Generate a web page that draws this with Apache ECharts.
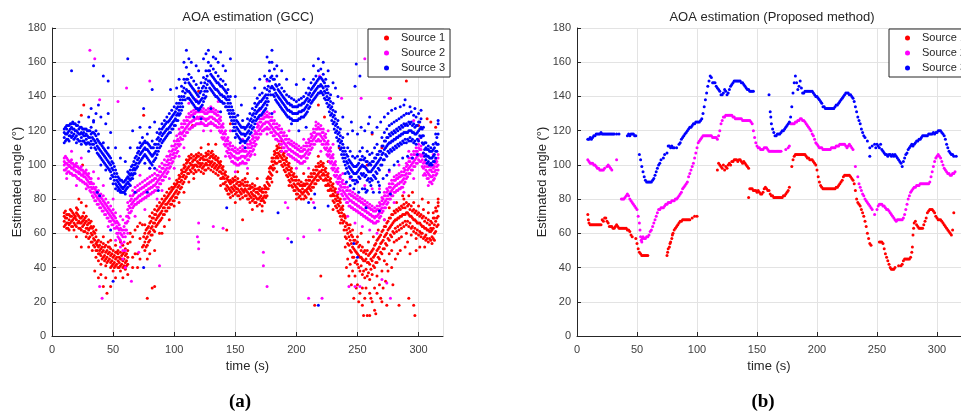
<!DOCTYPE html>
<html>
<head>
<meta charset="utf-8">
<script src="https://cdn.jsdelivr.net/npm/echarts@6/dist/echarts.min.js"></script>
<style>
  html, body { margin: 0; padding: 0; background: #fff; }
  #chart { width: 961px; height: 417px; }
</style>
</head>
<body>
<div id="chart"></div>
<script>
const sourceNames = ['Source 1', 'Source 2', 'Source 3'];
const sourceColors = ['#ff0000', '#ff00ff', '#0000ff'];
const yTicks = [0, 20, 40, 60, 80, 100, 120, 140, 160, 180];
const xTicks = [0, 50, 100, 150, 200, 250, 300];

const gccSource1 = [
  [10,67,70,64,72],[12,66,69,63,71],[14,68,71,65,62],[16,67,70,64,73],[18,66,69,62,71],
  [20,68,72,64,75],[22,67,70,63,80],[24,66,69,62,52],[26,65,68,61,72],[28,63,67,58,70],
  [30,62,66,57,68],[32,60,64,55,67],[34,57,61,53,64],[36,54,58,50,46],[38,52,56,48,44],
  [40,51,55,47,42],[42,50,54,46,58],[44,49,53,45,41],[46,48,52,44,55],[48,47,51,43,40],
  [50,46,50,42,38],[52,45,49,41,53],[54,44,48,40,50],[56,45,49,41,38],[58,44,48,40,53],
  [60,43,47,39,51],[62,46,50,42,36],[64,55,60],[66,58,40],[68,62,48],[70,48,64],[72,57,45],
  [74,52,65],[76,55,60,50,65],[78,58,63,53,45],[80,61,66,56,70],[82,64,69,59,72],
  [84,66,71,61,74],[86,69,73,65,76],[88,71,75,67,78],[90,73,77,69,80],[92,75,79,71,82],
  [94,77,81,73,84],[96,79,83,75,86],[98,81,85,77,87],[100,83,87,79,89],[102,85,89,81,91],
  [104,88,92,84,94],[106,91,95,87,97],[108,94,98,90,100],[110,97,101,93,103],[112,99,103,95,105],
  [114,100,104,96,106],[116,99,103,95,105],[118,100,104,96,106],[120,101,105,97,107],
  [122,100,104,96,106],[124,99,103,95,105],[126,101,105,97,107],[128,102,106,98,108],
  [130,101,105,97,107],[132,100,104,96,106],[134,99,103,95,105],[136,98,102,94,104],
  [138,96,100,92,102],[140,93,97,89,99],[142,90,94,86,96],[144,87,91,83,93],[146,85,89,81,91],
  [148,86,90,82,92],[150,87,91,83,93],[152,86,90,82,92],[154,84,88,80,90],[156,85,89,81,91],
  [158,86,90,82,92],[160,84,88,80,90],[162,82,86,78,88],[164,83,87,79,89],[166,82,86,78,88],
  [168,80,84,76,86],[170,81,85,77,87],[172,80,84,76,86],[174,82,86,78,88],[176,86,90,82,92],
  [178,92,96,88,98],[180,98,102,94,104],[182,102,106,98,108],[184,105,109,101,111],
  [186,106,110,102,112],[188,104,108,100,110],[190,101,105,97,107],[192,98,102,94,104],
  [194,95,99,91,101],[196,92,96,88,98],[198,89,93,85,95],[200,87,91,83,93],[202,85,89,81,91],
  [204,84,88,80,90],[206,84,88,80,89],[208,85,89,81,91],[210,87,91,83,93],[212,89,93,85,95],
  [214,91,95,87,97],[216,93,97,89,99],[218,95,99,91,101],[220,96,100,92,102],[222,95,99,91,101],
  [224,92,96,88,98],[226,89,93,85,95],[228,86,90,82,92],[230,83,87,79,89],[232,80,84,76,86],
  [234,77,81,73,83],[236,74,78,70,80],[238,70,74,66,76],[240,64,69,58,52],[242,60,65,54,45],
  [244,56,61,50,42],[246,52,58,46,38],[248,50,56,43,35],[250,48,55,42,30],[252,46,53,38,25],
  [254,45,52,36,28],[256,44,50,34,22],[258,43,50,35,12],[260,42,48,33,25],[262,44,50,36,20],
  [264,47,53,40,28],[266,50,56,43,35],[268,52,58,45,30],[270,55,61,48,38],[272,58,64,51,44],
  [274,60,66,53,42],[276,63,69,56,48],[278,65,71,58,50],[280,67,73,60,55],[282,68,74,61,56],
  [284,69,75,62,57],[286,70,76,63,58],[288,71,77,64,80],[290,72,78,65,60],[292,71,77,64,82],
  [294,70,76,63,59],[296,68,74,61,78],[298,67,73,60,57],[300,66,72,59,76],[302,65,71,58,60],
  [304,64,70,57,74],[306,63,69,56,59],[308,62,68,55,72],[310,61,67,56,63],[312,63,69,57,72],
  [314,67,73,61,75],[316,70,76,65,78]
];
const gccSource1Odd = [
  [11,69,65,73],[13,66,71,63],[15,70,66,74],[17,64,68,72],[19,69,65,70],[21,66,71,74],
  [23,69,63,66],[25,64,70,67],[27,66,61,69],[29,60,65,63],[31,63,58,66],[33,59,55,63],
  [35,56,52,60],[37,50,55,53],[39,53,48,50],[41,49,52,45],[43,52,47,44],[45,46,50,43],
  [47,49,45,52],[49,44,48,41],[51,47,43,40],[53,42,46,49],[55,46,43,40],[57,42,47,45],
  [59,45,41,49],[61,44,48,41],[75,58,53],[77,57,52,62],[79,60,55,64],[81,63,59,67],
  [83,66,62,69],[85,68,64,71],[87,70,66,74],[89,72,68,76],[91,75,71,78],[93,77,73,80],
  [95,78,75,82],[97,80,77,84],[99,82,79,86],[101,84,81,88],[103,87,83,90],[105,90,86,93],
  [107,93,89,96],[109,96,92,99],[111,98,95,102],[113,101,97,104],[115,102,98,100],
  [117,100,103,97],[119,102,99,105],[121,103,99,101],[123,101,98,104],[125,100,103,97],
  [127,103,100,106],[129,104,100,102],[131,102,99,105],[133,101,98,104],[135,100,103,97],
  [137,99,96,101],[139,95,98,92],[141,92,95,89],[143,88,92,85],[145,86,90,83],[147,87,84,90],
  [149,88,85,91],[151,89,86,84],[153,85,88,82],[155,86,83,89],[157,88,85,84],[159,85,88,82],
  [161,83,86,80],[163,84,81,87],[165,85,82,80],[167,81,84,78],[169,83,80,86],[171,82,79,85],
  [173,81,84,79],[175,84,87,81],[177,89,93,86],[179,95,99,92],[181,100,104,97],
  [183,104,107,101],[185,107,110,104],[187,105,108,102],[189,103,106,99],[191,100,103,96],
  [193,97,100,93],[195,94,97,90],[197,91,94,87],[199,88,91,85],[201,86,89,83],[203,85,88,82],
  [205,86,83,88],[207,85,88,82],[209,86,89,84],[211,88,91,86],[213,90,93,87],[215,92,95,89],
  [217,94,97,91],[219,96,99,93],[221,97,100,94],[223,94,97,91],[225,91,94,88],[227,88,91,85],
  [229,85,88,82],[231,82,85,78],[233,79,82,75],[235,76,79,72],[237,72,75,68],[239,67,62,71],
  [241,62,57,66],[243,58,53,63],[245,54,49,59],[247,51,46,56],[249,49,44,54],[251,47,40,52],
  [253,46,41,50],[255,44,38,49],[257,45,39,48],[259,43,37,47],[261,45,39,49],[263,46,41,51],
  [265,48,43,54],[267,51,46,57],[269,54,49,59],[271,56,51,62],[273,59,54,64],[275,62,57,67],
  [277,64,59,69],[279,66,61,71],[281,68,63,72],[283,69,64,73],[285,70,65,74],[287,71,66,75],
  [289,71,67,75],[291,72,67,76],[293,70,66,74],[295,69,64,73],[297,68,63,72],[299,66,62,71],
  [301,66,61,70],[303,64,60,69],[305,63,58,67],[307,62,57,66],[309,61,57,65],[311,62,58,66],
  [313,65,60,69],[315,69,64,73]
];
const gccSource1Stray = [
  [24,129],[26,135],[25,100],[35,38],[38,34],[42,29],[45,25],[48,29],[60,40],[75,129],[78,22],
  [82,28],[84,29],[90,60],[115,123],[120,143],[131,108],[143,62],[146,124],[156,68],[215,18],
  [218,135],[220,35],[223,128],[247,22],[255,12],[260,12],[265,13],[270,20],[274,18],[277,139],
  [284,18],[290,149],[292,22],[296,18],[297,12],[300,123],[307,127],[310,125],[314,122],
  [262,118],[270,110],[258,100],[235,110],
  [240,70],[241,40],[243,35],[244,65],[245,30],[246,62],[249,28],[250,58],[251,20],[253,60],
  [254,18],[257,28],[259,55],[261,22],[263,58],[264,15],[266,25],[267,62],[269,22],[271,28],
  [272,68],[273,32],[275,38],[276,75],[278,40],[279,30],[281,45],[282,78],[283,48],[285,50],
  [287,82],[289,52],[291,55],[293,48],[295,84],[298,50],[301,52],[303,80],[305,52],[308,78],
  [311,54],[313,56],[316,80],[20,58],[24,78],[28,76],[30,52],[33,50],[36,62],[40,36],[44,34],
  [48,56],[52,34],[56,55],[58,34],[62,54],[66,46],[70,40],[72,66],[80,48],[84,50],[88,60],
  [92,64],[96,68],[100,76],[104,78],[108,84],[112,90],[116,92],[122,110],[128,112],[134,112],
  [138,88],[150,78],[152,96],[160,95],[164,74],[168,92],[172,73],[180,90],[184,96],[188,114],
  [194,88],[200,80],[206,95],[212,80],[218,105],[226,102],[230,74],[236,66]
];

const gccSource2 = [
  [10,100,104,97,102],[12,101,98,104,95],[14,99,102,96,100],[16,98,101,95,103],[18,97,100,94,99],
  [20,96,99,93,101],[22,95,98,92,96],[24,94,97,91,99],[26,93,96,90,95],[28,92,95,89,97],
  [30,90,93,87,95],[32,87,90,84,92],[34,84,87,81,89],[36,82,85,79,87],[38,80,83,77,85],
  [40,78,81,75,83],[42,76,79,73,82],[44,74,77,71,80],[46,72,75,69,78],[48,70,73,67,76],
  [50,68,71,65,74],[52,66,69,63,72],[54,63,66,60,58],[56,60,63,56,52],[58,58,62,50,45],
  [60,62,66,58,40],[62,70,74,67,78],[64,75,79,72,82],[66,78,82,75,85],[68,80,84,77,87],
  [70,81,85,78,88],[72,82,86,79,89],[74,83,87,80,90],[76,84,88,81,91],[78,85,89,82,92],
  [80,86,90,83,93],[82,87,91,84,94],[84,88,92,85,95],[86,90,94,87,97],[88,92,96,89,99],
  [90,94,98,91,101],[92,96,100,93,103],[94,98,102,95,105],[96,101,105,98,108],[98,104,108,101,111],
  [100,107,111,104,114],[102,110,114,107,117],[104,114,118,111,121],[106,118,122,115,124],
  [108,120,124,117,126],[110,122,126,119,128],[112,124,128,121,130],[114,125,129,122,131],
  [116,126,130,123,132],[118,127,131,124,133],[120,127,131,124,133],[122,128,132,125,134],
  [124,127,131,124,133],[126,126,130,123,132],[128,127,131,124,133],[130,128,132,125,134],
  [132,127,131,124,133],[134,126,130,123,132],[136,125,129,122,131],[138,122,126,119,128],
  [140,118,122,115,124],[142,114,118,111,120],[144,110,114,107,116],[146,107,111,104,113],
  [148,105,109,102,111],[150,104,108,101,110],[152,103,107,100,109],[154,104,108,101,110],
  [156,105,109,102,111],[158,104,108,101,110],[160,106,110,103,112],[162,108,112,105,114],
  [164,111,115,108,117],[166,114,118,111,120],[168,118,122,115,124],[170,121,125,118,127],
  [172,123,127,120,129],[174,124,128,121,130],[176,125,129,122,131],[178,124,128,121,130],
  [180,122,126,119,128],[182,120,124,117,126],[184,118,122,115,124],[186,117,121,114,123],
  [188,115,119,112,121],[190,113,117,110,119],[192,111,115,108,117],[194,109,113,106,115],
  [196,108,112,105,114],[198,107,111,104,113],[200,106,110,103,112],[202,105,109,102,111],
  [204,104,108,101,110],[206,105,109,102,111],[208,107,111,104,113],[210,109,113,106,115],
  [212,112,116,109,118],[214,115,119,112,121],[216,117,121,114,123],[218,118,122,115,124],
  [220,117,121,114,123],[222,115,119,112,121],[224,112,116,109,118],[226,108,112,105,114],
  [228,104,108,101,110],[230,100,104,97,106],[232,96,100,93,102],[234,92,96,89,98],
  [236,88,92,85,94],[238,85,89,82,91],[240,83,87,80,89],[242,81,85,78,87],[244,79,83,76,85],
  [246,78,82,75,84],[248,77,81,74,83],[250,76,80,73,82],[252,75,79,72,81],[254,74,78,71,80],
  [256,73,77,70,79],[258,72,76,69,78],[260,71,75,68,77],[262,70,74,67,76],[264,69,73,66,75],
  [266,70,74,67,76],[268,72,76,69,78],[270,75,79,72,81],[272,78,82,75,84],[274,80,84,77,86],
  [276,83,87,80,89],[278,85,89,82,91],[280,87,91,84,93],[282,88,92,85,94],[284,89,93,86,95],
  [286,90,94,87,96],[288,92,96,89,98],[290,95,99,92,101],[292,98,102,95,104],[294,100,104,97,106],
  [296,102,106,99,108],[298,104,108,101,110],[300,106,110,103,112],[302,105,109,102,111],
  [304,101,105,98,107],[306,97,101,94,103],[308,95,99,92,101],[310,93,97,90,99],
  [312,94,98,91,100],[314,97,101,94,103],[316,100,104,97,106]
];
const gccSource2Odd = [
  [11,101,97,105],[13,100,96,103],[15,99,95,102],[17,98,94,101],[19,97,94,100],[21,96,92,99],
  [23,95,91,98],[25,94,90,97],[27,93,89,96],[29,91,88,94],[31,89,85,92],[33,86,82,89],
  [35,83,79,86],[37,81,77,84],[39,79,75,82],[41,77,73,80],[43,75,71,78],[45,73,69,76],
  [47,71,67,74],[49,69,65,72],[51,67,63,70],[53,64,60,67],[55,62,57,65],[57,59,54,62],
  [59,60,55,64],[61,66,62,70],[63,72,69,76],[65,77,73,80],[67,79,76,83],[69,80,77,84],
  [71,82,78,85],[73,83,79,86],[75,84,80,87],[77,85,81,88],[79,86,82,89],[81,87,83,90],
  [83,88,84,91],[85,89,85,92],[87,91,87,94],[89,93,89,96],[91,95,91,98],[93,97,93,100],
  [95,100,96,103],[97,103,99,106],[99,106,102,109],[101,109,105,112],[103,112,108,115],
  [105,116,112,119],[107,119,115,122],[109,121,117,124],[111,123,119,126],[113,125,121,128],
  [115,126,122,129],[117,127,123,130],[119,128,124,131],[121,128,124,131],[123,128,124,131],
  [125,127,123,130],[127,127,123,130],[129,128,124,131],[131,128,124,131],[133,127,123,130],
  [135,126,122,129],[137,124,120,127],[139,120,116,123],[141,116,112,119],[143,112,108,115],
  [145,109,105,112],[147,106,102,109],[149,105,101,108],[151,104,100,107],[153,104,100,107],
  [155,105,101,108],[157,105,101,108],[159,105,101,108],[161,107,103,110],[163,110,106,113],
  [165,113,109,116],[167,116,112,119],[169,120,116,123],[171,122,118,125],[173,124,120,127],
  [175,125,121,128],[177,125,121,128],[179,123,119,126],[181,121,117,124],[183,119,115,122],
  [185,118,114,121],[187,116,112,119],[189,114,110,117],[191,112,108,115],[193,110,106,113],
  [195,109,105,112],[197,108,104,111],[199,107,103,110],[201,106,102,109],[203,105,101,108],
  [205,105,101,108],[207,106,102,109],[209,108,104,111],[211,111,107,114],[213,114,110,117],
  [215,116,112,119],[217,118,114,121],[219,118,114,121],[221,116,112,119],[223,114,110,117],
  [225,110,106,113],[227,106,102,109],[229,102,98,105],[231,98,94,101],[233,94,90,97],
  [235,90,86,93],[237,87,83,90],[239,84,80,87],[241,82,78,85],[243,80,76,83],[245,79,75,82],
  [247,78,74,81],[249,77,73,80],[251,76,72,79],[253,75,71,78],[255,74,70,77],[257,73,69,76],
  [259,72,68,75],[261,71,67,74],[263,70,66,73],[265,70,66,73],[267,71,67,74],[269,74,70,77],
  [271,77,73,80],[273,79,75,82],[275,82,78,85],[277,84,80,87],[279,86,82,89],[281,88,84,91],
  [283,89,85,92],[285,90,86,93],[287,91,87,94],[289,94,90,97],[291,97,93,100],[293,99,95,102],
  [295,101,97,104],[297,103,99,106],[299,105,101,108],[301,106,102,109],[303,103,99,106],
  [305,99,95,102],[307,96,92,99],[309,94,90,97],[311,93,89,96],[313,96,92,99],[315,99,95,102]
];
const gccSource2Stray = [
  [31,167],[35,162],[39,138],[39,29],[41,22],[54,137],[61,145],[65,32],[71,49],[80,149],
  [88,41],[119,58],[120,55],[120,51],[120,66],[132,64],[140,63],[173,49],[173,41],[176,29],
  [176,149],[191,78],[193,57],[193,75],[206,58],[210,22],[214,78],[219,152],[219,62],[221,22],
  [237,139],[243,29],[248,29],[252,29],[253,139],[256,162],[270,33],[274,31],[276,139],[277,22],
  [296,126],
  [12,92],[16,108],[20,88],[24,104],[28,86],[34,96],[38,92],[42,88],[46,64],[50,80],[52,56],
  [56,70],[58,68],[60,50],[62,60],[64,88],[68,70],[72,94],[76,74],[80,98],[86,80],[90,85],
  [96,92],[100,98],[104,105],[108,110],[112,136],[118,138],[124,120],[130,120],[136,137],
  [142,105],[146,120],[150,96],[156,115],[160,98],[166,106],[170,132],[176,118],[182,131],
  [188,108],[194,120],[200,98],[206,115],[210,98],[216,125],[220,108],[226,120],[230,112],
  [234,84],[238,95],[242,70],[244,92],[248,66],[250,90],[254,64],[256,88],[260,62],[262,86],
  [266,60],[268,86],[272,68],[276,96],[280,78],[284,100],[288,84],[292,108],[296,92],
  [300,115],[304,94],[308,88],[312,106]
];

const gccSource3 = [
  [10,116,119,113,121],[12,118,121,115,123],[14,120,117,123,114],[16,122,119,116,124],
  [18,121,118,124,115],[20,120,123,117,113],[22,118,121,125,114],[24,119,116,122,112],
  [26,117,121,114,119],[28,118,115,121,112],[30,116,120,113,108],[32,118,114,122,110],
  [34,115,112,119,125],[36,113,117,109,120],[38,110,114,106,118],[40,108,112,104,100],
  [42,106,110,102,113],[44,104,100,108,97],[46,102,98,106,110],[48,100,96,104,92],
  [50,97,93,101,89],[52,93,89,97,86],[54,90,87,93,85],[56,88,85,91,84],[58,87,84,90,86],
  [60,88,85,91,83],[62,90,87,93,96],[64,94,91,97,88],[66,97,94,100,92],[68,100,97,104,95],
  [70,103,99,107,110],[72,106,102,110,113],[74,108,104,112,116],[76,110,106,114,101],
  [78,109,104,113,118],[80,107,102,111,98],[82,105,110,100,114],[84,107,112,103,98],
  [86,110,115,106,119],[88,114,118,110,121],[90,117,121,113,124],[92,119,123,115,126],
  [94,121,125,117,128],[96,122,126,119,130],[98,124,128,121,132],[100,126,130,123,134],
  [102,129,133,126,136],[104,132,136,129,140],[106,136,140,132,146],[108,140,145,150,160],
  [110,144,150,157,167],[112,143,148,139,153],[114,141,146,137,151],[116,139,144,135,149],
  [118,137,142,133,147],[120,136,140,145,132],[122,138,143,148,134],[124,141,146,151,137],
  [126,145,150,155,140],[128,149,155,160,167],[130,148,153,158,144],[132,146,151,156,142],
  [134,144,149,154,140],[136,143,148,139,152],[138,141,146,137,150],[140,140,145,136,149],
  [142,139,143,134,147],[144,136,140,132,144],[146,132,136,128,140],[148,128,132,124,120],
  [150,124,128,120,116],[152,121,125,117,129],[154,119,123,115,113],[156,118,122,114,126],
  [158,117,121,113,110],[160,119,123,115,127],[162,122,126,118,130],[164,125,129,121,133],
  [166,128,132,124,136],[168,131,135,127,139],[170,133,137,129,141],[172,134,138,130,142],
  [174,136,140,132,145],[176,139,144,135,150],[178,143,149,155,160],[180,146,152,160,167],
  [182,144,150,156,140],[184,141,146,137,152],[186,139,143,135,147],[188,137,141,133,145],
  [190,135,139,131,143],[192,133,137,129,141],[194,132,136,128,140],[196,131,135,127,139],
  [198,130,134,126,138],[200,130,134,126,137],[202,131,135,127,138],[204,131,135,128,139],
  [206,132,136,128,140],[208,134,138,130,142],[210,137,141,133,145],[212,140,144,136,148],
  [214,142,146,138,150],[216,144,148,140,152],[218,146,150,142,155],[220,147,151,143,156],
  [222,145,149,141,153],[224,142,146,138,150],[226,138,142,134,146],[228,133,137,129,141],
  [230,128,132,124,136],[232,123,127,119,131],[234,118,122,114,126],[236,113,117,109,121],
  [238,108,112,104,116],[240,104,108,100,95],[242,101,105,96,110],[244,98,102,93,108],
  [246,96,100,91,105],[248,95,99,89,104],[250,96,100,90,105],[252,98,103,92,108],
  [254,100,105,94,110],[256,99,104,93,86],[258,97,102,91,108],[260,96,101,90,106],
  [262,97,102,91,107],[264,99,104,93,110],[266,101,106,95,112],[268,103,108,97,88],
  [270,106,111,100,116],[272,109,114,103,119],[274,111,116,105,121],[276,113,118,107,123],
  [278,114,119,108,124],[280,115,120,109,125],[282,116,121,110,126],[284,117,122,111,127],
  [286,118,123,112,128],[288,119,124,113,129],[290,119,124,113,130],[292,120,125,114,130],
  [294,120,125,114,131],[296,119,124,113,129],[298,118,123,112,128],[300,120,125,114,130],
  [302,122,127,116,132],[304,112,117,107,122],[306,106,110,103,113],[308,105,109,102,111],
  [310,104,108,101,110],[312,105,109,102,112],[314,108,113,104,118],[316,118,124,112,126]
];
const gccSource3Odd = [
  [11,118,114,122],[13,119,115,123],[15,121,117,124],[17,121,117,125],[19,120,116,124],
  [21,119,115,123],[23,118,114,122],[25,118,114,121],[27,117,113,121],[29,117,113,120],
  [31,116,112,120],[33,116,112,119],[35,114,110,118],[37,111,107,115],[39,109,105,113],
  [41,107,103,111],[43,105,101,109],[45,103,99,107],[47,101,97,105],[49,98,94,102],
  [51,95,91,99],[53,91,88,95],[55,89,86,92],[57,87,84,91],[59,87,84,90],[61,89,86,92],
  [63,92,89,95],[65,95,92,99],[67,98,95,102],[69,101,98,105],[71,104,101,108],[73,107,103,111],
  [75,109,105,113],[77,109,105,113],[79,108,103,112],[81,106,101,110],[83,106,102,110],
  [85,108,104,112],[87,112,108,116],[89,115,111,119],[91,118,114,122],[93,120,116,124],
  [95,121,118,125],[97,123,119,127],[99,125,121,129],[101,127,123,131],[103,130,126,134],
  [105,134,130,138],[107,138,134,143],[109,142,138,148],[111,143,139,150],[113,142,138,147],
  [115,140,136,145],[117,138,134,143],[119,137,133,141],[121,137,133,142],[123,139,135,145],
  [125,143,139,148],[127,147,143,152],[129,149,145,155],[131,147,143,152],[133,145,141,150],
  [135,144,140,148],[137,142,138,147],[139,141,137,146],[141,140,136,144],[143,138,134,142],
  [145,134,130,138],[147,130,126,134],[149,126,122,130],[151,122,118,126],[153,120,116,124],
  [155,118,114,122],[157,118,114,122],[159,118,114,122],[161,120,116,124],[163,123,119,127],
  [165,126,122,130],[167,130,126,134],[169,132,128,136],[171,133,129,137],[173,135,131,139],
  [175,137,133,141],[177,141,137,146],[179,145,141,151],[181,145,141,150],[183,142,138,147],
  [185,140,136,144],[187,138,134,142],[189,136,132,140],[191,134,130,138],[193,132,128,136],
  [195,131,127,135],[197,130,126,134],[199,130,126,134],[201,130,126,134],[203,131,127,135],
  [205,132,128,136],[207,133,129,137],[209,135,131,139],[211,138,134,142],[213,141,137,145],
  [215,143,139,147],[217,145,141,149],[219,146,142,151],[221,146,142,150],[223,143,139,148],
  [225,140,136,144],[227,135,131,139],[229,130,126,134],[231,125,121,129],[233,120,116,124],
  [235,115,111,119],[237,110,106,114],[239,106,102,110],[241,102,98,106],[243,99,95,103],
  [245,97,93,101],[247,95,91,99],[249,95,91,99],[251,97,93,101],[253,99,95,103],[255,99,95,103],
  [257,98,94,102],[259,96,92,100],[261,96,92,100],[263,98,94,102],[265,100,96,104],
  [267,102,98,106],[269,104,100,108],[271,107,103,111],[273,110,106,114],[275,112,108,116],
  [277,113,109,117],[279,114,110,118],[281,115,111,119],[283,116,112,120],[285,117,113,121],
  [287,118,114,122],[289,119,115,123],[291,119,115,123],[293,120,116,124],[295,119,115,123],
  [297,118,114,122],[299,119,115,123],[301,121,117,125],[303,117,113,121],[305,109,105,113],
  [307,105,101,109],[309,104,100,108],[311,104,100,108],[313,106,102,110],[315,112,108,116]
];
const gccSource3Stray = [
  [16,155],[34,158],[37,84],[39,82],[42,152],[46,149],[48,62],[50,32],[62,162],[75,133],
  [75,40],[78,84],[82,144],[87,85],[97,144],[138,166],[143,75],[146,162],[176,163],[185,72],
  [196,55],[210,78],[215,83],[215,75],[218,18],[226,76],[232,145],[247,54],[248,146],
  [249,159],[250,46],[252,152],[257,84],[257,75],[268,84],[268,73],[277,83],[289,138],
  [244,88],[246,120],[247,86],[250,118],[251,84],[253,122],[254,86],[256,120],[258,85],
  [259,124],[261,88],[262,119],[263,84],[265,92],[266,122],[267,90],[269,125],[271,92],
  [272,128],[274,94],[275,130],[276,97],[278,132],[280,100],[281,133],[283,102],[285,134],
  [287,104],[288,135],[291,105],[293,134],[295,104],[297,133],[299,106],[242,118],[241,90],
  [245,125],[260,128],[30,128],[32,133],[34,126],[36,130],[38,135],[40,128],[44,124],[46,130],
  [48,119],[52,110],[56,104],[60,102],[64,110],[66,120],[68,84],[72,122],[80,122],[84,125],
  [102,145],[104,150],[112,162],[114,160],[118,158],[120,155],[124,162],[126,165],[132,163],
  [134,162],[136,160],[140,158],[142,155],[116,128],[122,127],[130,133],[138,131],[150,140],
  [155,135],[166,145],[170,150],[174,152],[180,130],[184,158],[188,155],[192,150],[200,147],
  [206,150],[214,158],[218,162],[222,160],[226,155],[230,148],[234,140],[238,128],[202,120],
  [208,122],[196,124]
];

// Proposed method plot: [time, angle] read along each track
const propSource1 = [
  [9,71],[9.5,68],[10,66],[11,65],[12,65],[13,65],[14,65],[15,65],[16,65],[17,65],[18,65],
  [19,65],[20,65],[21,68],[22,67],[23,69],[24,69],[25,67],[26,66],[27,64],[28,64],[29,64],
  [30,63],[31,63],[32,64],[33,65],[34,64],[35,63],[36,63],[37,63],[38,63],[39,63],[40,63],
  [41,63],[42,62],[43,62],[44,61],[45,59],[46,58],[49,57],[50,54],[51,51],[52,49],[53,48],
  [54,47],[55,47],[56,47],[57,47],[58,47],[59,47],
  [75,47],[75.5,49],[76,51],[77,52],[77.5,54],[78,55],[79,57],[79.5,59],[80,60],[81,62],
  [82,63],[83,64],[84,65],[85,66],[86,67],[87,67],[88,68],[89,68],[90,68],[91,68],[92,68],
  [93,68],[94,68],[96,69],[98,70],[100,70],
  [117,97],[118,101],[119,100],[120,99],[121,98],[122,100],[123,97],[124,99],[125,98],
  [126,100],[127,101],[128,100],[129,102],[130,102],[131,103],[132,103],[133,103],[134,102],
  [135,103],[136,103],[137,102],[138,101],[139,102],[140,101],[141,100],[142,99],[143,98],
  [143,81],[144,86],[145,86],[146,86],[147,85],[148,85],[149,85],[150,84],[151,85],[152,84],
  [153,83],[154,83],[155,84],[156,86],[157,87],[158,86],[159,85],[160,85],[161,83],[162,82],
  [163,82],[164,81],[165,81],[166,81],[167,81],[168,81],[169,81],[170,81],[171,81],[172,82],
  [173,82],[174,83],[175,84],[176,85],[177,87],
  [179,99],[180,103],[181,105],[182,106],[183,106],[184,106],[185,106],[186,106],[187,106],
  [188,106],[189,106],[190,106],[191,105],[192,104],[193,104],[194,103],[195,103],[196,103],
  [197,102],[198,101],[199,100],[200,97],[201,93],[202,90],[203,88],[204,87],[205,86],
  [206,86],[207,86],[208,86],[209,86],[210,86],[211,86],[212,86],[213,86],[214,86],[215,86],
  [216,87],[217,87],[218,88],[219,89],[220,90],[221,91],[222,93],[223,94],[224,94],[225,94],
  [226,94],[227,94],[228,93],[229,92],[230,91],[231,89],[232,85],[233,80],[234,78],[235,77],
  [236,76],[237,74],[238,72],[239,70],[240,67],[241,64],[242,60],[243,57],[244,54],[245,53],
  [252,55],[253,55],[254,55],[255,54],[256,51],[257,48],[258,46],[259,44],[260,42],[261,40],
  [262,39],[263,39],[264,39],[265,40],[268,41],[270,41],[271,42],[272,44],[273,45],[274,45],
  [275,45],[276,45],[277,45],[278,46],[279,49],[279.5,52],[280,59],[280.5,63],[281,66],
  [282,67],[283,65],[284,64],[285,63],[286,63],[287,63],[288,63],[289,65],[290,67],[291,69],
  [292,72],[293,73],[294,74],[295,74],[296,74],[297,73],[298,72],[299,70],[300,69],[301,68],
  [302,68],[303,68],[304,67],[305,66],[306,65],[307,64],[308,63],[309,62],[310,61],[311,60],
  [312,59],[313,62],[314,72]
];
const propSource2 = [
  [9,103],[10,102],[11,101],[12,101],[13,101],[14,100],[15,100],[16,99],[17,98],[18,98],
  [19,97],[20,97],[21,97],[22,97],[23,98],[25,99],[26,100],[27,99],[28,98],[29,97],[33,103],
  [37,80],[38,80],[39,80],[40,81],[41,82],[42,83],[43,82],[44,80],[45,79],[46,78],[47,77],
  [48,76],[49,75],[50,74],[51,70],[52,66],[52.5,62],[53,58],[53.5,56],[54,55],[54.5,57],
  [55,58],[56,57],[57,57],[58,58],[59,58],[60,59],[61,61],[62,62],[63,64],[64,66],[65,68],
  [66,70],[67,72],[68,74],[69,74],[70,75],[71,75],[72,75],[73,76],[74,77],[75,77],[76,78],
  [77,78],[78,78],[79,79],[80,79],[81,79],[82,80],[83,80],[84,81],[85,82],[86,83],[87,84],
  [88,86],[89,87],[90,88],[91,89],[92,90],[93,93],[94,95],[95,97],[96,99],[97,101],[98,104],
  [99,107],[100,110],[101,113],[102,114],[103,115],[104,116],[105,117],[106,117],[107,117],
  [108,117],[109,117],[110,117],[111,117],[112,117],[113,116],[114,116],[115,116],[116,116],
  [117,115],[118,117],[119,120],[120,124],[121,126],[122,128],[123,128],[124,129],[125,129],
  [126,129],[127,129],[128,129],[129,129],[130,128],[131,128],[132,127],[133,127],[134,127],
  [135,127],[136,127],[137,127],[138,126],[139,126],[140,126],[141,126],[142,126],[143,126],
  [144,126],[145,125],[146,124],[147,120],[148,116],[149,113],[150,111],[151,110],[152,110],
  [153,109],[154,109],[155,109],[156,110],[157,110],[158,110],[159,109],[160,108],[161,108],
  [162,108],[163,108],[164,108],[165,108],[166,108],[167,108],[168,108],[169,108],[170,108],
  [174,109],[176,110],[177,111],[178,124],[179,124],[180,124],[181,124],[182,125],[183,125],
  [184,126],[185,126],[186,127],[187,127],[188,126],[189,126],[190,125],[191,124],[192,123],
  [193,122],[194,121],[195,120],[196,118],[197,117],[198,115],[199,113],[200,112],[201,111],
  [202,110],[203,110],[204,110],[205,109],[206,109],[207,109],[208,109],[209,109],[210,109],
  [211,109],[212,110],[213,110],[214,110],[215,110],[216,111],[217,111],[218,111],[219,112],
  [220,112],[221,112],[222,112],[223,112],[224,111],[225,110],[226,111],[227,112],[228,111],
  [229,110],[230,109],[232,99],[234,93],[235,89],[236,87],[237,85],[238,83],[239,82],[240,80],
  [241,79],[242,78],[243,77],[244,76],[245,75],[246,74],[248,71],[250,74],[251,76],[252,77],
  [253,77],[254,77],[255,76],[256,76],[257,75],[258,74],[259,74],[260,73],[261,72],[262,71],
  [263,70],[264,69],[265,68],[266,67],[267,68],[268,68],[269,68],[270,68],[271,68],[272,69],
  [273,71],[274,74],[275,77],[276,80],[277,82],[278,84],[279,85],[280,86],[281,87],[282,87],
  [283,88],[284,88],[285,88],[286,89],[287,89],[288,89],[289,89],[290,89],[291,89],[292,89],
  [293,89],[294,90],[295,93],[296,96],[297,99],[298,102],[299,104],[300,105],[301,106],
  [302,105],[303,104],[304,102],[305,100],[306,98],[307,97],[308,96],[309,95],[310,95],
  [311,94],[312,94],[313,95],[314,95],[315,96]
];
const propSource3 = [
  [9,115],[10,115],[11,116],[12,115],[13,116],[14,117],[15,117],[16,118],[17,118],[18,118],
  [19,118],[20,119],[21,118],[22,118],[23,118],[24,118],[25,118],[26,118],[27,118],[28,118],
  [29,118],[30,118],[31,118],[33,118],[35,118],
  [42,117],[43,118],[44,117],[45,118],[46,118],[47,118],[48,117],[49,117],
  [52,106],[53,103],[54,99],[55,96],[56,93],[57,91],[58,90],[59,90],[60,90],[61,90],[62,90],
  [63,91],[64,92],[65,94],[66,96],[67,98],[68,100],[69,101],[70,103],[72,104],[73,106],
  [75,107],[76,111],[77,111],[78,110],[79,111],[80,110],[81,110],[83,110],[85,112],[86,113],
  [87,115],[88,116],[89,117],[90,118],[91,119],[92,120],[93,121],[94,122],[95,122],[96,123],
  [97,124],[98,124],[99,125],[100,125],[101,125],[102,125],[103,126],[104,127],[105,130],
  [106,134],[107,138],[108,142],[109,146],[110,149],[111,152],[112,151],[113,148],[114,148],
  [115,148],[116,146],[117,145],[118,144],[119,143],[120,141],[121,141],[122,142],[123,144],
  [124,143],[125,141],[126,142],[127,144],[128,146],[129,147],[130,148],[131,149],[132,149],
  [133,149],[134,149],[135,149],[136,149],[137,148],[138,148],[139,147],[140,146],[141,145],
  [142,144],[143,144],[144,143],[145,143],[146,143],[147,143],
  [160,141],[161,131],[161.5,128],[162,124],[163,121],[164,119],[165,117],[166,117],[167,118],
  [168,118],[169,118],[170,119],[171,120],[172,120],[173,121],[174,122],[175,123],[176,124],
  [177,125],[178,128],[179,134],[180,142],[181,148],[182,152],[183,148],[184,144],[185,146],
  [186,149],[187,145],[188,142],[189,142],[190,143],[191,143],[192,143],[193,143],[194,143],
  [195,143],[196,143],[197,142],[198,141],[199,140],[200,140],[201,139],[202,138],[203,137],
  [204,136],[205,134],[206,134],[207,133],[208,133],[209,133],[210,133],[211,133],[212,133],
  [213,133],[214,133],[215,134],[216,135],[217,135],[218,136],[219,137],[220,138],[221,139],
  [222,140],[223,141],[224,142],[225,142],[226,142],[227,141],[228,141],[229,140],[230,139],
  [231,137],[232,134],[233,131],[234,128],[235,126],[236,124],[237,121],[238,119],[239,117],
  [240,116],[242,114],[244,110],[244,105],[246,111],[248,112],[249,110],[250,112],[251,111],
  [252,110],[253,112],[254,109],[255,108],[256,107],[257,106],[258,106],[259,105],[260,106],
  [261,106],[262,105],[263,106],[264,105],[265,106],[266,105],[267,104],[268,103],[269,102],
  [270,101],[271,99],[272,102],[273,104],[274,106],[275,107],[276,109],[277,110],[278,111],
  [279,112],[280,111],[281,112],[282,113],[283,114],[284,114],[285,115],[286,115],[287,116],
  [288,117],[289,117],[290,117],[291,117],[292,117],[293,118],[294,118],[295,118],[296,118],
  [297,119],[298,118],[299,119],[300,119],[301,120],[302,120],[303,120],[304,119],[305,118],
  [306,117],[307,115],[308,112],[309,110],[310,108],[311,107],[312,106],[313,106],[314,105],
  [316,105]
];

function expandRows(rowSets, stray) {
  const out = [];
  rowSets.forEach(rows => rows.forEach(r => {
    for (let i = 1; i < r.length; i++) out.push([r[0], r[i]]);
  }));
  return out.concat(stray);
}

const gccData = [
  expandRows([gccSource1, gccSource1Odd], gccSource1Stray),
  expandRows([gccSource2, gccSource2Odd], gccSource2Stray),
  expandRows([gccSource3, gccSource3Odd], gccSource3Stray)
];
const propData = [propSource1, propSource2, propSource3];

const font = '"Liberation Sans", Arial, sans-serif';
const axisColor = '#262626';

const makeX = (gridIndex) => ({
  type: 'value', gridIndex, min: 0, max: 320, interval: 50,
  name: 'time (s)', nameLocation: 'middle', nameGap: 24,
  nameTextStyle: { fontFamily: font, fontSize: 13, color: axisColor },
  axisLine: { show: true, lineStyle: { color: axisColor, width: 1 } },
  axisTick: { show: true, inside: true, length: 4, lineStyle: { color: axisColor } },
  axisLabel: {
    fontFamily: font, fontSize: 11, color: '#404040', margin: 8, showMaxLabel: false,
    formatter: v => (xTicks.indexOf(v) >= 0 ? String(v) : '')
  },
  splitLine: { show: true, lineStyle: { color: '#e3e3e3', width: 1 } }
});

const makeY = (gridIndex) => ({
  type: 'value', gridIndex, min: 0, max: 180, interval: 20,
  name: 'Estimated angle (°)', nameLocation: 'middle', nameGap: 28, nameRotate: 90,
  nameTextStyle: { fontFamily: font, fontSize: 13, color: axisColor },
  axisLine: { show: true, lineStyle: { color: axisColor, width: 1 } },
  axisTick: { show: true, inside: true, length: 4, lineStyle: { color: axisColor } },
  axisLabel: {
    fontFamily: font, fontSize: 11, color: '#404040', margin: 6,
    formatter: v => (yTicks.indexOf(v) >= 0 ? String(v) : '')
  },
  splitLine: { show: true, lineStyle: { color: '#e3e3e3', width: 1 } }
});

const makeLegend = (left) => ({
  data: sourceNames, orient: 'vertical', left, top: 29,
  backgroundColor: '#fff', borderColor: '#262626', borderWidth: 1, borderRadius: 0,
  padding: [3, 5, 3, 16], itemGap: 3, itemWidth: 5, itemHeight: 5, icon: 'circle',
  selectedMode: false,
  textStyle: { fontFamily: font, fontSize: 11, color: '#262626', padding: [0, 0, 0, 7], lineHeight: 12 }
});

const series = [];
[gccData, propData].forEach((group, gi) => {
  group.forEach((data, si) => {
    series.push({
      name: sourceNames[si], type: 'scatter', xAxisIndex: gi, yAxisIndex: gi,
      data, symbol: 'circle', symbolSize: 3, animation: false,
      itemStyle: { color: sourceColors[si], opacity: 1 }
    });
  });
});

const chart = echarts.init(document.getElementById('chart'));
chart.setOption({
  animation: false,
  backgroundColor: '#fff',
  grid: [
    { left: 52, top: 28, width: 391, height: 308 },
    { left: 577, top: 28, width: 391, height: 308 }
  ],
  xAxis: [makeX(0), makeX(1)],
  yAxis: [makeY(0), makeY(1)],
  legend: [makeLegend(368), makeLegend(889)],
  graphic: [
    { type: 'text', x: 248, y: 17, style: { text: 'AOA estimation (GCC)', font: '13px ' + font, fill: axisColor, textAlign: 'center', textVerticalAlign: 'middle' } },
    { type: 'text', x: 772, y: 17, style: { text: 'AOA estimation (Proposed method)', font: '13px ' + font, fill: axisColor, textAlign: 'center', textVerticalAlign: 'middle' } },
    { type: 'text', x: 240, y: 402, style: { text: '(a)', font: 'bold 19px "Liberation Serif", serif', fill: '#000', textAlign: 'center', textVerticalAlign: 'middle' } },
    { type: 'text', x: 763, y: 402, style: { text: '(b)', font: 'bold 19px "Liberation Serif", serif', fill: '#000', textAlign: 'center', textVerticalAlign: 'middle' } }
  ],
  series
});
</script>
</body>
</html>
